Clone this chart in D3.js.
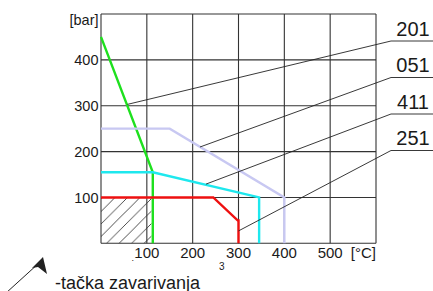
<!DOCTYPE html>
<html>
<head>
<meta charset="utf-8">
<script src="https://cdn.jsdelivr.net/npm/d3@7"></script>
<style>
  body { margin: 0; background: #fff; }
  text { font-family: "Liberation Sans", Arial, sans-serif; fill: #1a1a1a; }
</style>
</head>
<body>
<div id="canvas"></div>
<script>
const W = 433, H = 291;
const PLOT = { LEFT: 101, RIGHT: 376, TOP: 14, BOTTOM: 243.3 };

// data (x in °C, y in bar)
const xTicks = [100, 200, 300, 400, 500];
const yTicks = [100, 200, 300, 400];
const seriesNames = ['201', '051', '411', '251'];
const green201 = [[0, 450], [113, 155], [113, 0]];
const lavender051 = [[0, 250], [150, 250], [400, 100], [400, 0]];
const cyan411 = [[0, 155], [113, 155], [345, 100], [345, 0]];
const red251 = [[0, 100], [245, 100], [298, 50], [300, 50], [300, 0]];
// where each leader line touches its curve
const leaderAnchors = [[58, 303], [216, 210], [229, 129], [300, 27]];
const hatchArea = [[0, 0], [110, 100]];

const series = [
  { name: '201', pts: green201, color: '#1ee01e' },
  { name: '051', pts: lavender051, color: '#c8c8f2' },
  { name: '411', pts: cyan411, color: '#1ee8ee' },
  { name: '251', pts: red251, color: '#ee1010' }
];

const svg = d3.select('#canvas').append('svg')
  .attr('width', W)
  .attr('height', H);

const x = d3.scaleLinear().domain([0, 600]).range([PLOT.LEFT, PLOT.RIGHT]);
const y = d3.scaleLinear().domain([0, 500]).range([PLOT.BOTTOM, PLOT.TOP]);

// hatch pattern
const pat = svg.append('defs').append('pattern')
  .attr('id', 'hatch')
  .attr('patternUnits', 'userSpaceOnUse')
  .attr('width', 12.5).attr('height', 12.5);
pat.append('path')
  .attr('d', 'M0,12.5 L12.5,0 M-3,3 L3,-3 M9.5,15.5 L15.5,9.5')
  .attr('stroke', '#222').attr('stroke-width', 0.8);

svg.append('rect')
  .attr('x', x(hatchArea[0][0]))
  .attr('y', y(hatchArea[1][1]))
  .attr('width', x(hatchArea[1][0]) - x(hatchArea[0][0]))
  .attr('height', y(hatchArea[0][1]) - y(hatchArea[1][1]))
  .attr('fill', 'url(#hatch)');

// grid
const grid = svg.append('g').attr('stroke', '#333').attr('stroke-width', 1.1);
grid.selectAll('.vx').data(d3.range(0, 601, 100)).enter().append('line')
  .attr('x1', d => x(d)).attr('x2', d => x(d))
  .attr('y1', y(0)).attr('y2', y(500));
grid.selectAll('.hy').data(d3.range(0, 501, 100)).enter().append('line')
  .attr('x1', x(0)).attr('x2', x(600))
  .attr('y1', d => y(d)).attr('y2', d => y(d));

// tick labels
svg.selectAll('.xt').data(xTicks).enter().append('text')
  .attr('x', d => x(d)).attr('y', 258)
  .attr('text-anchor', 'middle')
  .style('font-size', '15px')
  .text(d => d);
svg.append('text')
  .attr('x', x(600)).attr('y', 258)
  .attr('text-anchor', 'end')
  .style('font-size', '15px')
  .text('[°C]');

svg.selectAll('.yt').data(yTicks).enter().append('text')
  .attr('x', 98.5).attr('y', d => y(d) + 5.3)
  .attr('text-anchor', 'end')
  .style('font-size', '14.5px')
  .text(d => d);
svg.append('text')
  .attr('x', 98.5).attr('y', 25)
  .attr('text-anchor', 'end')
  .style('font-size', '14.5px')
  .text('[bar]');

// stray marks from the original
svg.append('text').attr('x', 131.5).attr('y', 261).style('font-size', '9px').text('.');
svg.append('text').attr('x', 219).attr('y', 270).style('font-size', '10px').text('3');

// curves
const line = d3.line().x(d => x(d[0])).y(d => y(d[1]));
svg.selectAll('.curve').data(series).enter().append('path')
  .attr('d', d => line(d.pts))
  .attr('fill', 'none')
  .attr('stroke', d => d.color)
  .attr('stroke-width', 2.4)
  .attr('stroke-linejoin', 'miter');

// leader lines + labels
const LABEL_X0 = 391, LABEL_X1 = 433, LABEL_Y0 = 41, LABEL_DY = 36.5;
seriesNames.forEach((name, i) => {
  const ly = LABEL_Y0 + i * LABEL_DY;
  const a = leaderAnchors[i];
  svg.append('path')
    .attr('d', `M${x(a[0])},${y(a[1])} L${LABEL_X0},${ly} L${LABEL_X1},${ly}`)
    .attr('fill', 'none')
    .attr('stroke', '#222')
    .attr('stroke-width', 0.9);
  svg.append('text')
    .attr('x', 413).attr('y', ly - 5.5)
    .attr('text-anchor', 'middle')
    .style('font-size', '20px')
    .text(name);
});

// legend: welding point marker
svg.append('line')
  .attr('x1', 6).attr('y1', 293).attr('x2', 39).attr('y2', 263)
  .attr('stroke', '#222').attr('stroke-width', 1);
svg.append('path')
  .attr('d', 'M43,257 L32,268 L38,267 L47,274 Z')
  .attr('fill', '#222');
svg.append('text')
  .attr('x', 55).attr('y', 288.5)
  .style('font-size', '18px')
  .text('-tačka zavarivanja');
</script>
</body>
</html>
